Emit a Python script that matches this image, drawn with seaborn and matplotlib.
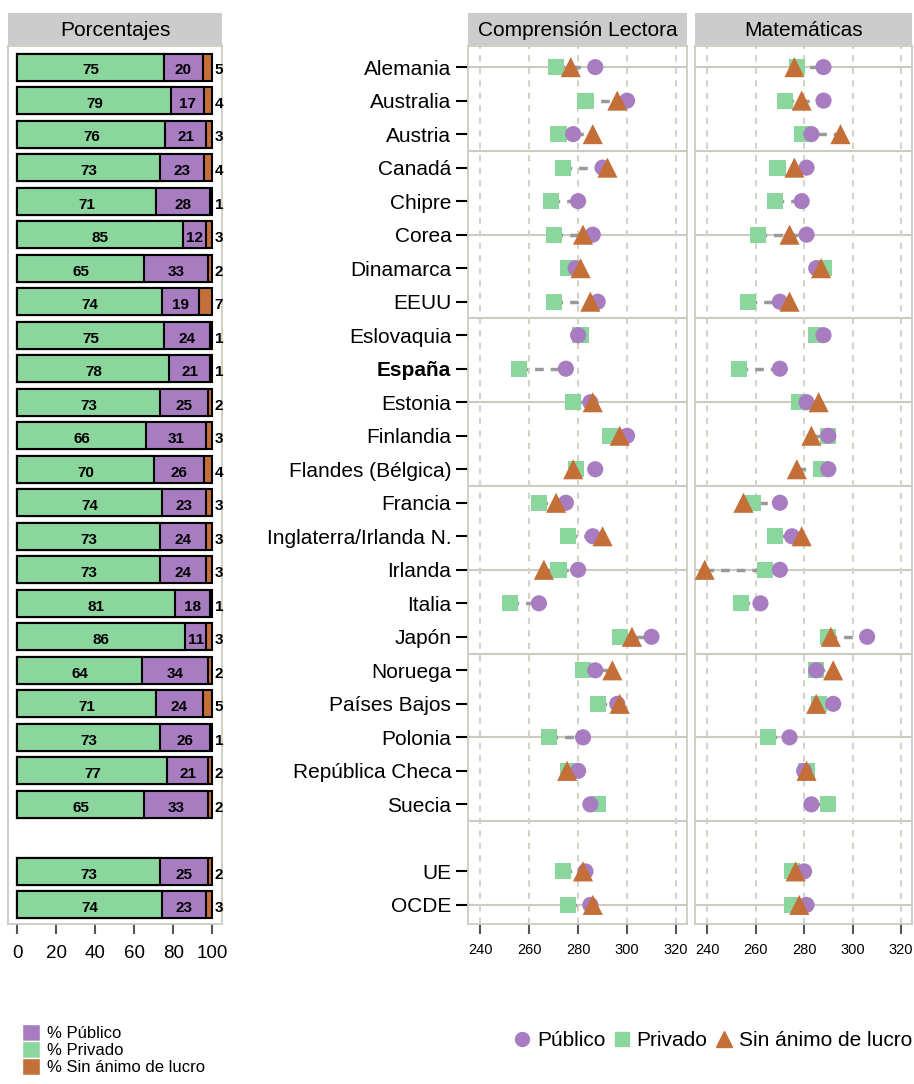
import numpy as np
import pandas as pd
import matplotlib
matplotlib.use('Agg')
import matplotlib.pyplot as plt
import seaborn as sns
from matplotlib.lines import Line2D
from matplotlib.patches import Patch

sns.set_style('white')
plt.rcParams['font.family'] = ['Liberation Sans', 'DejaVu Sans']
plt.rcParams.update({'text.color': 'black', 'xtick.labelcolor': 'black',
                     'ytick.labelcolor': 'black', 'axes.labelcolor': 'black'})

nan = np.nan

# filas: 23 paises, un hueco, UE y OCDE
paises = ['Alemania', 'Australia', 'Austria', 'Canadá', 'Chipre', 'Corea', 'Dinamarca', 'EEUU',
          'Eslovaquia', 'España', 'Estonia', 'Finlandia', 'Flandes (Bélgica)', 'Francia',
          'Inglaterra/Irlanda N.', 'Irlanda', 'Italia', 'Japón', 'Noruega', 'Países Bajos',
          'Polonia', 'República Checa', 'Suecia', '', 'UE', 'OCDE']

# porcentajes (barras apiladas)
pct_privado = [75, 79, 76, 73, 71, 85, 65, 74, 75, 78, 73, 66, 70, 74, 73, 73, 81, 86, 64, 71, 73, 77, 65, nan, 73, 74]
pct_publico = [20, 17, 21, 23, 28, 12, 33, 19, 24, 21, 25, 31, 26, 23, 24, 24, 18, 11, 34, 24, 26, 21, 33, nan, 25, 23]
pct_sin = [5, 4, 3, 4, 1, 3, 2, 7, 1, 1, 2, 3, 4, 3, 3, 3, 1, 3, 2, 5, 1, 2, 2, nan, 2, 3]

# Comprension lectora
lec_publico = [287, 300, 278, 290, 280, 286, 279, 288, 280, 275, 285, 300, 287, 275, 286, 280, 264, 310, 287, 296, 282, 280, 285, nan, 283, 285]
lec_privado = [271, 283, 272, 274, 269, 270, 276, 270, 281, 256, 278, 293, 279, 264, 276, 272, 252, 297, 282, 288, 268, 276, 288, nan, 274, 276]
lec_sin = [277, 296, 286, 292, nan, 282, 281, 285, nan, nan, 286, 297, 278, 271, 290, 266, nan, 302, 294, 297, nan, 275.5, nan, nan, 282, 286]

# Matematicas
mat_publico = [288, 288, 283, 281, 279, 281, 285, 270, 288, 270, 281, 290, 290, 270, 275, 270, 262, 306, 285, 292, 274, 280, 283, nan, 280, 281]
mat_privado = [277, 272, 279, 269, 268, 261, 288, 257, 285, 253, 278, 290, 287, 259, 268, 264, 254, 290, 285, 286, 265, 281, 290, nan, 275, 275]
mat_sin = [276, 279, 295, 276, nan, 274, 287, 274, nan, nan, 286, 283, 277, 255, 279, 239, nan, 291, 292, 285, nan, 281, nan, nan, 276.5, 278]

c_pub = '#A87CC0'
c_priv = '#8AD69C'
c_sin = '#C46E38'
c_frame = '#CBCBC0'
c_strip = '#CCCCCC'

pos = np.arange(len(paises))
ylims = (25.57, -0.63)

W, H = 914, 1084
fig = plt.figure(figsize=(W / 100, H / 100), dpi=100)


def rect(x0, y0, x1, y1):
    return [x0 / W, 1 - y1 / H, (x1 - x0) / W, (y1 - y0) / H]


ax0 = fig.add_axes(rect(8, 46, 222, 924))
ax1 = fig.add_axes(rect(468, 46, 687, 924))
ax2 = fig.add_axes(rect(695, 46, 912, 924))

# strips
for (x0, x1), titulo in zip([(8, 222), (468, 687), (695, 912)],
                            ['Porcentajes', 'Comprensión Lectora', 'Matemáticas']):
    s = fig.add_axes(rect(x0, 13, x1, 45))
    s.set_facecolor(c_strip)
    s.set_xticks([])
    s.set_yticks([])
    for sp in s.spines.values():
        sp.set_visible(False)
    s.text(0.5, 0.45, titulo, ha='center', va='center', fontsize=15, transform=s.transAxes)

# ---- barras apiladas ----
bar = pd.DataFrame({'pos': pos, 'priv': pct_privado, 'pub': pct_publico, 'sin': pct_sin}).dropna()
bar['c1'] = bar['priv']
bar['c2'] = bar['priv'] + bar['pub']
bar['c3'] = bar['priv'] + bar['pub'] + bar['sin']

for col, colr in [('c3', c_sin), ('c2', c_pub), ('c1', c_priv)]:
    sns.barplot(data=bar, x=col, y='pos', orient='h', native_scale=True, color=colr,
                saturation=1, edgecolor='black', linewidth=1.5, width=0.81,
                errorbar=None, ax=ax0)

for _, r in bar.iterrows():
    ax0.text(r['priv'] / 2, r['pos'] + 0.1, '%d' % r['priv'], ha='center', va='center',
             fontsize=11, fontweight='bold')
    ax0.text(r['priv'] + r['pub'] / 2, r['pos'] + 0.1, '%d' % r['pub'], ha='center', va='center',
             fontsize=11, fontweight='bold')
    ax0.text(101.3, r['pos'] + 0.1, '%d' % r['sin'], ha='left', va='center',
             fontsize=11, fontweight='bold', clip_on=False)

ax0.set_xlim(-4.8, 105)
ax0.set_ylim(*ylims)
ax0.set_xticks([0, 20, 40, 60, 80, 100])
ax0.set_yticks([])
ax0.set_xlabel('')
ax0.set_ylabel('')
ax0.tick_params(axis='x', bottom=True, length=7, width=1.5, color='#555555', labelsize=13.5, pad=8)
for sp in ax0.spines.values():
    sp.set_color(c_frame)
    sp.set_linewidth(1.3)

# ---- puntos ----
orden = ['Privado', 'Público', 'Sin ánimo de lucro']
paleta = {'Público': c_pub, 'Privado': c_priv, 'Sin ánimo de lucro': c_sin}
marcas = {'Público': 'o', 'Privado': 's', 'Sin ánimo de lucro': '^'}
tamanos = {'Público': 135, 'Privado': 135, 'Sin ánimo de lucro': 210}


def panel(ax, pub, priv, sin):
    d = pd.concat([
        pd.DataFrame({'pos': pos, 'valor': priv, 'tipo': 'Privado'}),
        pd.DataFrame({'pos': pos, 'valor': pub, 'tipo': 'Público'}),
        pd.DataFrame({'pos': pos, 'valor': sin, 'tipo': 'Sin ánimo de lucro'}),
    ]).dropna()
    tab = pd.DataFrame({'a': pub, 'b': priv, 'c': sin})
    lo = tab.min(axis=1)
    hi = tab.max(axis=1)
    for y in np.arange(0, 25.1, 2.5):
        ax.axhline(y, color=c_frame, lw=1.5, zorder=0)
    ax.hlines(pos, lo, hi, colors='#999999', linestyles=(0, (2.5, 2)), lw=2.5, zorder=1)
    sns.scatterplot(data=d, x='valor', y='pos', hue='tipo', style='tipo', size='tipo',
                    hue_order=orden, style_order=orden, size_order=orden,
                    palette=paleta, markers=marcas, sizes=tamanos,
                    linewidth=0, legend=False, ax=ax, zorder=3)
    ax.set_xlim(235, 324.5)
    ax.set_ylim(*ylims)
    ax.set_xticks([240, 260, 280, 300, 320])
    ax.grid(axis='x', color='#D3D3C8', linestyle=(0, (3, 3)), lw=1.5)
    ax.grid(axis='y', visible=False)
    ax.set_axisbelow(True)
    ax.set_xlabel('')
    ax.set_ylabel('')
    ax.tick_params(axis='x', bottom=True, length=7, width=1.5, color='#555555', labelsize=10.5, pad=7)
    for sp in ax.spines.values():
        sp.set_color(c_frame)
        sp.set_linewidth(1.3)


panel(ax1, lec_publico, lec_privado, lec_sin)
panel(ax2, mat_publico, mat_privado, mat_sin)

filas = [(p, n) for p, n in zip(pos, paises) if n != '']
ax1.set_yticks([p for p, n in filas])
ax1.set_yticklabels([n for p, n in filas], fontsize=15)
ax1.tick_params(axis='y', left=True, length=9, width=1.5, color='black', pad=3)
for t in ax1.get_yticklabels():
    if t.get_text() == 'España':
        t.set_fontweight('bold')
ax2.set_yticks([])

# ---- leyendas ----
h_izq = [Patch(facecolor=c_pub, label='% Público'),
         Patch(facecolor=c_priv, label='% Privado'),
         Patch(facecolor=c_sin, label='% Sin ánimo de lucro')]
fig.legend(handles=h_izq, loc='upper left', bbox_to_anchor=(22 / W, 1 - 1024 / H),
           frameon=False, fontsize=12, handlelength=1.1, handleheight=1.2,
           labelspacing=0, handletextpad=0.4, borderpad=0, borderaxespad=0)

h_der = [Line2D([], [], marker='o', ls='', color=c_pub, markersize=10, label='Público'),
         Line2D([], [], marker='s', ls='', color=c_priv, markersize=10, label='Privado'),
         Line2D([], [], marker='^', ls='', color=c_sin, markersize=12, label='Sin ánimo de lucro')]
fig.legend(handles=h_der, loc='center right', bbox_to_anchor=(912 / W, 1 - 1041 / H),
           frameon=False, fontsize=15, ncol=3, handlelength=0.8, handletextpad=0.3,
           columnspacing=0.4, borderpad=0, borderaxespad=0)

plt.savefig('out.png', dpi=100)
